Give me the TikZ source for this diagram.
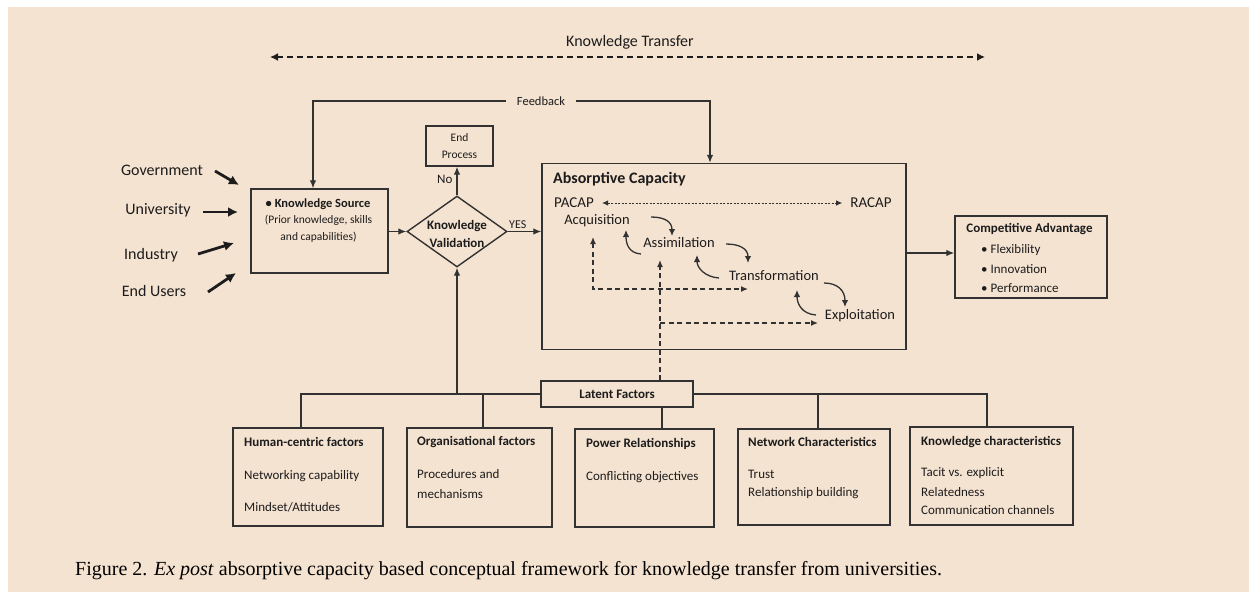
\documentclass[tikz,border=0pt]{standalone}
\usepackage{fontspec}
\setmainfont{Carlito}
\newfontfamily\capfont{Liberation Serif}
\usetikzlibrary{arrows.meta,shapes.geometric,calc}
\definecolor{bg}{RGB}{245,227,209}
\definecolor{ink}{RGB}{28,28,28}
\definecolor{ln}{RGB}{50,50,50}
\begin{document}
\begin{tikzpicture}[x=1pt,y=-1pt,
  every node/.style={text=ink, inner sep=0pt},
  box/.style={draw=ln, line width=1.4pt, inner sep=0pt},
  conn/.style={draw=ln, line width=1.3pt},
  arr/.style={conn, -{Latex[length=8pt,width=6.5pt]}},
  bigarr/.style={draw=ink, line width=2.8pt, -{Latex[length=10pt,width=10pt]}},
  ktarr/.style={draw=ink, line width=2.6pt, dash pattern=on 6pt off 4pt, {Latex[length=8pt,width=8pt]}-{Latex[length=8pt,width=8pt]}},
  dsh/.style={draw=ln, line width=1.3pt, dash pattern=on 5pt off 3.5pt},
  dtip/.style={dsh, -{Latex[length=7pt,width=6pt]}},
  dtip2/.style={dsh, {Latex[length=7pt,width=6pt]}-{Latex[length=7pt,width=6pt]}},
  dotarr/.style={draw=ln, line width=1pt, dash pattern=on 2pt off 1.5pt, {Latex[length=6pt,width=5.5pt]}-{Latex[length=6pt,width=5.5pt]}},
  curv/.style={draw=ln, line width=1.3pt, -{Latex[length=7pt,width=6.5pt]}},
  src/.style={font=\fontsize{16}{19}\selectfont},
  ttl/.style={anchor=west, font=\fontsize{13}{15}\selectfont\bfseries},
  itm/.style={anchor=west, font=\fontsize{13}{15}\selectfont},
  stage/.style={font=\fontsize{14.5}{17}\selectfont}
]
\useasboundingbox (0,0) rectangle (1249,592);
\fill[white] (0,0) rectangle (1249,592);
\fill[bg] (8,7) rectangle (1249,592);

% Knowledge transfer
\node[font=\fontsize{16}{19}\selectfont] (kt) at (630,42) {Knowledge Transfer};
\coordinate (kt1) at (270,57);
\coordinate (kt2) at (985,57);
\draw[ktarr] (kt1) -- (kt2);

% sources
\node[src] (gov) at (162,170) {Government};
\node[src] (uni) at (158,210) {University};
\node[src] (ind) at (151,255) {Industry};
\node[src] (eu) at (154,291) {End Users};
\coordinate (g1) at (215,171); \coordinate (g2) at (239,185);
\coordinate (u1) at (203,212); \coordinate (u2) at (238,212);
\coordinate (i1) at (198,254); \coordinate (i2) at (234,243);
\coordinate (e1) at (208,292); \coordinate (e2) at (236,273);
\draw[bigarr] (g1) -- (g2);
\draw[bigarr] (u1) -- (u2);
\draw[bigarr] (i1) -- (i2);
\draw[bigarr] (e1) -- (e2);

% knowledge source
\node[box, minimum width=137pt, minimum height=84pt] (ks) at (319.5,231) {};
\node[font=\fontsize{12.5}{15}\selectfont\bfseries] (ks1) at (318,204) {\textbullet\ Knowledge Source};
\node[font=\fontsize{11.5}{14}\selectfont] (ks2) at (318.5,220) {(Prior knowledge, skills};
\node[font=\fontsize{11.5}{14}\selectfont] (ks3) at (318.5,237) {and capabilities)};

% validation diamond
\node[diamond, draw=ln, line width=1.4pt, minimum width=100pt, minimum height=71pt, inner sep=0pt] (kv) at (457,231.5) {};
\node[font=\fontsize{13}{18}\selectfont\bfseries, align=center] (kvt) at (457,234) {Knowledge\\Validation};

% end process
\node[box, minimum width=67pt, minimum height=40pt, align=center, font=\fontsize{11.5}{17}\selectfont] (ep) at (459.5,146) {End\\Process};

% absorptive capacity
\node[box, minimum width=364pt, minimum height=186pt] (ac) at (724,256.5) {};
\node[anchor=west, font=\fontsize{16}{19}\selectfont\bfseries] (act) at (553,179) {Absorptive Capacity};
\node[font=\fontsize{15}{18}\selectfont, inner xsep=8pt] (pacap) at (574,203) {PACAP};
\node[font=\fontsize{15}{18}\selectfont, inner xsep=8pt] (racap) at (871,203) {RACAP};
\draw[dotarr] (pacap.east) -- (racap.west);
\node[stage] (acq) at (597,221) {Acquisition};
\node[stage] (asm) at (679,243) {Assimilation};
\node[stage] (trf) at (774,276) {Transformation};
\node[stage] (exp) at (860,316) {Exploitation};

% forward curved arrows
\coordinate (f1s) at (651,217); \coordinate (f1e) at (672,236);
\coordinate (f2s) at (726,244); \coordinate (f2e) at (748,263);
\coordinate (f3s) at (824,283); \coordinate (f3e) at (845,307);
\draw[curv] (f1s) .. controls +(14,0) and +(0,-14) .. (f1e);
\draw[curv] (f2s) .. controls +(14,0) and +(0,-14) .. (f2e);
\draw[curv] (f3s) .. controls +(14,0) and +(0,-16) .. (f3e);
% backward curved arrows
\coordinate (b1s) at (641,254); \coordinate (b1e) at (626,230);
\coordinate (b2s) at (719,278); \coordinate (b2e) at (697,255);
\coordinate (b3s) at (816,315); \coordinate (b3e) at (797,290);
\draw[curv] (b1s) .. controls +(-13,-1) and +(0,13) .. (b1e);
\draw[curv] (b2s) .. controls +(-14,-1) and +(0,13) .. (b2e);
\draw[curv] (b3s) .. controls +(-14,-1) and +(0,14) .. (b3e);

% dashed feedback in AC
\coordinate (da1) at (593,237); \coordinate (da2) at (748,289);
\draw[dtip2] (da1) |- (da2);

% competitive advantage
\node[box, minimum width=152pt, minimum height=82pt] (ca) at (1031,257) {};
\node[font=\fontsize{13}{15}\selectfont\bfseries] (cat) at (1029.5,229) {Competitive Advantage};
\node[itm] (ca1) at (981,250) {\textbullet\ Flexibility};
\node[itm] (ca2) at (981,269) {\textbullet\ Innovation};
\node[itm] (ca3) at (981,288) {\textbullet\ Performance};

% feedback
\node[font=\fontsize{12.5}{15}\selectfont, inner xsep=11pt] (fb) at (541,101) {Feedback};
\draw[arr] (fb.west) -| ([xshift=-6.5pt]ks.north);
\draw[arr] (fb.east) -| ([xshift=-14pt]ac.north);

% main flow
\draw[arr] (ks.east |- kv.west) -- (kv.west);
\draw[arr] (kv.east) -- (kv.east -| ac.west) node[pos=0.3, above=2pt, font=\fontsize{12}{14}\selectfont] (yes) {YES};
\draw[arr] (kv.north) -- (kv.north |- ep.south) node[pos=0.55, left=4pt, font=\fontsize{13}{15}\selectfont] (no) {No};
\coordinate (cay) at ($(ca.west)+(0,-4)$);
\draw[arr] (ac.east |- cay) -- (cay);

% latent factors
\node[box, minimum width=152pt, minimum height=26pt, font=\fontsize{13}{15}\selectfont\bfseries] (lf) at (617,394) {Latent Factors};
\node[box, minimum width=150pt, minimum height=98pt] (hc) at (308,477) {};
\node[box, minimum width=145pt, minimum height=99pt] (org) at (479.5,477.5) {};
\node[box, minimum width=139pt, minimum height=98pt] (pw) at (644.5,478) {};
\node[box, minimum width=152pt, minimum height=96pt] (nw) at (814,477) {};
\node[box, minimum width=163pt, minimum height=98pt] (kc) at (991.5,476) {};

\draw[conn] (lf.west) -| ([xshift=-7pt]hc.north);
\draw[conn] ([xshift=3.5pt]org.north) -- ([xshift=3.5pt]org.north |- lf.west);
\draw[conn] ([xshift=45pt]lf.south) -- ([xshift=45pt]lf.south |- pw.north);
\draw[conn] (lf.east) -| ([xshift=-4.5pt]kc.north);
\draw[conn] ([xshift=4pt]nw.north) -- ([xshift=4pt]nw.north |- lf.east);
\draw[arr] (kv.south |- lf.west) -- (kv.south);

\coordinate (db1) at (660,260);
\coordinate (db2) at (660,323); \coordinate (db3) at (818,323);
\draw[dtip] ([xshift=43pt]lf.north) -- (db1);
\draw[dtip] (db2) -- (db3);

% bottom texts
\node[ttl] (hc1) at (244,442) {Human-centric factors};
\node[itm] (hc2) at (244,476) {Networking capability};
\node[itm] (hc3) at (244,507) {Mindset/Attitudes};
\node[ttl] (or1) at (417,442) {Organisational factors};
\node[itm] (or2) at (417,474) {Procedures and};
\node[itm] (or3) at (417,494) {mechanisms};
\node[ttl] (pw1) at (586,444) {Power Relationships};
\node[itm] (pw2) at (586,477) {Conflicting objectives};
\node[ttl] (nw1) at (748,442) {Network Characteristics};
\node[itm] (nw2) at (748,474) {Trust};
\node[itm] (nw3) at (748,493) {Relationship building};
\node[ttl] (kc1) at (921,442) {Knowledge characteristics};
\node[itm] (kc2) at (921,473) {Tacit vs. explicit};
\node[itm] (kc3) at (921,492) {Relatedness};
\node[itm] (kc4) at (921,510) {Communication channels};

% caption
\node[anchor=west, font=\capfont\fontsize{20}{24}\selectfont, text=black] (cap) at (75,571) {Figure 2. \textit{Ex post} absorptive capacity based conceptual framework for knowledge transfer from universities.};
\end{tikzpicture}
\end{document}
